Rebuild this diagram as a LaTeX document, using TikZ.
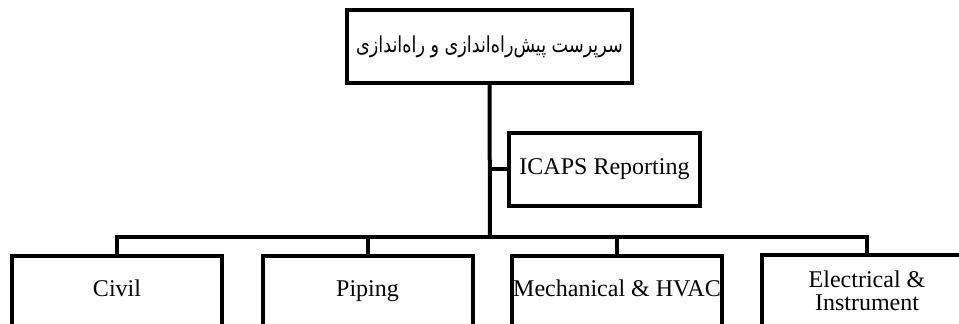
\documentclass[tikz,border=0pt]{standalone}
\usepackage{fontspec}
\setmainfont{Liberation Serif}
\newfontfamily\persianfont[Script=Arabic,FakeStretch=0.8]{DejaVu Sans}
\TeXXeTstate=1
\usetikzlibrary{positioning}
\tikzset{
  org box/.style={draw, line width=2pt, align=center, inner sep=0pt, font=\fontsize{12}{11.5}\selectfont},
  head box/.style={org box, minimum width=142.5pt, minimum height=36.5pt, font=\persianfont\fontsize{11}{12}\selectfont},
  side box/.style={org box, minimum width=95.5pt, minimum height=36.5pt},
  unit box/.style={org box, minimum width=105pt, minimum height=36pt},
  one line/.style={text height=8pt, text depth=3pt},
  link/.style={line width=2pt},
}

\begin{document}
\begin{tikzpicture}[x=0.5pt,y=-0.5pt]
\useasboundingbox (0,0) rectangle (959,324);
\clip (0,0) rectangle (959,324);
% the nodes
\node [head box] (head) at (489.5,46.5) {\beginR سرپرست پیش‌راه‌اندازی و راه‌اندازی\endR};
\node [side box, one line] (icaps) at (604.5,169.5) {ICAPS Reporting};
\node [unit box, one line] (civil) at (117,292) {Civil};
\node [unit box, one line] (piping) at (367.5,292) {Piping};
\node [unit box, one line] (mech) at (617,292) {Mechanical \& HVAC};
\node [unit box] (elec) at (867,291) {Electrical \&\\Instrument};
\coordinate (bus) at (490,237);
%drawings of links
\draw[link] (head.south) -- (bus);
\draw[link] (icaps.west) -- (icaps.west -| bus);
\draw[link] (civil.north) |- (bus) -| (elec.north);
\draw[link] (piping.north) -- (piping.north |- bus);
\draw[link] (mech.north) -- (mech.north |- bus);

\end{tikzpicture}
\end{document}
